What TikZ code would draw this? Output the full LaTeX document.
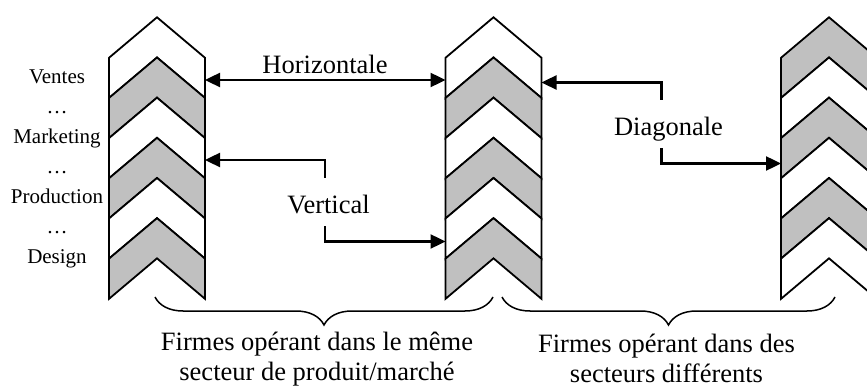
\documentclass[tikz,border=0pt]{standalone}
\usepackage{fontspec}
\setmainfont{Liberation Serif}
\usetikzlibrary{arrows.meta,decorations.pathreplacing}
\definecolor{bandgray}{RGB}{192,192,192}

\begin{document}
\begin{tikzpicture}[x=1pt,y=-1pt,
  band/.style={draw=black, line width=1.8pt},
  arr/.style={line width=2.4pt, -{Triangle[length=15pt,width=14pt]}},
  dbl/.style={line width=2.4pt, {Triangle[length=15pt,width=14pt]}-{Triangle[length=15pt,width=14pt]}},
  brc/.style={line width=1.5pt, decorate, decoration={brace, mirror, amplitude=28pt}},
  func/.style={font=\fontsize{21}{24}\selectfont, anchor=base, inner sep=0pt},
  kind/.style={font=\fontsize{26.5}{31}\selectfont, anchor=base, inner sep=0pt},
  boxed/.style={kind, text height=36pt, text depth=12pt},
  group/.style={font=\fontsize{26.5}{30}\selectfont, anchor=north, inner sep=0pt, align=center}]
 \path[use as bounding box] (0,0) rectangle (867,387);

% chevron columns
\foreach \cx/\first/\second in {157/white/bandgray, 493.5/white/bandgray, 829/bandgray/white}
  \foreach \k/\c in {0/\first, 1/\second, 2/\first, 3/\second, 4/\first, 5/\second}
    \filldraw[band, fill=\c] ({\cx-48},{57.8+40.17*\k}) -- ({\cx},{17.3+40.17*\k})
      -- ({\cx+48},{57.8+40.17*\k}) -- ({\cx+48},{98+40.17*\k})
      -- ({\cx},{57.5+40.17*\k}) -- ({\cx-48},{98+40.17*\k}) -- cycle;

% column edges
\coordinate (c1h) at (205,80);
\coordinate (c2h) at (445.5,80);
\coordinate (c1v) at (205,160);
\coordinate (c2v) at (445.5,241.5);
\coordinate (c2d) at (541.5,82.5);
\coordinate (c3d) at (781,163.5);

% functions
\foreach \t [count=\i] in {Ventes, …, Marketing, …, Production, …, Design}
	\node[func] (fn\i) at (57,{83.5+30*(\i-1)}) {\t};

% kinds of links
\node[kind] (hor) at (325,74) {Horizontale};
\node[boxed] (vert) at (328.5,214) {Vertical};
\node[boxed] (diag) at (668.5,136) {Diagonale};

\draw[dbl] (c1h) -- (c2h);
\draw[arr] ([xshift=-3.5pt]vert.north) |- (c1v);
\draw[arr] ([xshift=-3.5pt]vert.south) |- (c2v);
\draw[arr] ([xshift=-7pt]diag.north) |- (c2d);
\draw[arr] ([xshift=-7pt]diag.south) |- (c3d);

% groups of firms
\draw[brc] (155,297) -- (493,297);
\draw[brc] (502,297) -- (835,297);

\node[group] (same) at (317,331.5) {Firmes opérant dans le même\\secteur de produit/marché};
\node[group] (other) at (666.5,333.5) {Firmes opérant dans des\\secteurs différents};

\end{tikzpicture}
\end{document}
